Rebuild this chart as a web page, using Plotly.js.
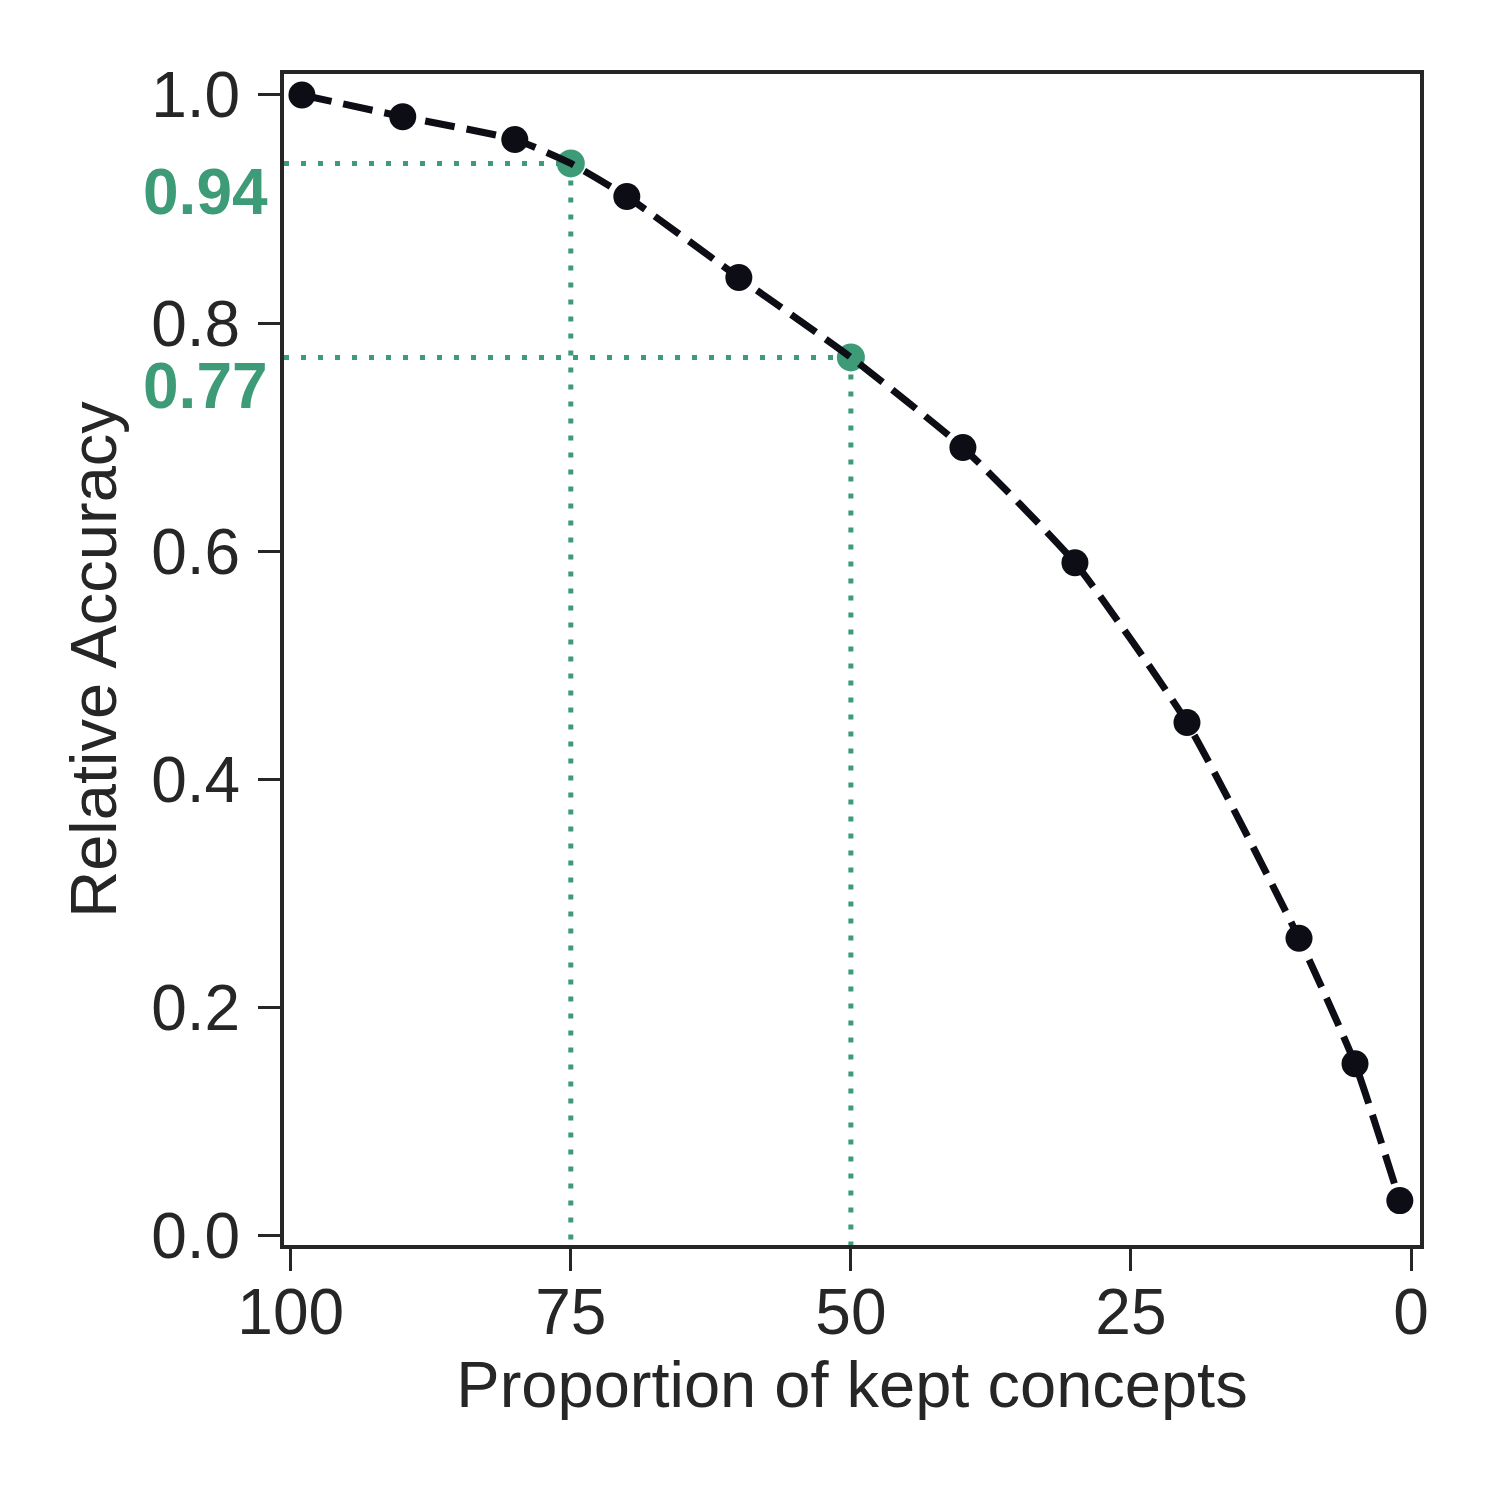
<!DOCTYPE html>
<html>
<head>
<meta charset="utf-8">
<script src="https://cdn.plot.ly/plotly-3.0.1.min.js"></script>
<style>html,body{margin:0;padding:0;background:#fff;}#chart{width:1500px;height:1500px;}</style>
</head>
<body>
<div id="chart"></div>
<script>
// Data
const keptProportion = [99, 90, 80, 75, 70, 60, 50, 40, 30, 20, 10, 5, 1];
const relativeAccuracy = [1.0, 0.981, 0.961, 0.94, 0.911, 0.84, 0.77, 0.691, 0.59, 0.45, 0.261, 0.151, 0.031];
const highlightX = [75, 50];
const highlightY = [0.94, 0.77];
const highlightLabels = ['0.94', '0.77'];
const xTickVals = [100, 75, 50, 25, 0];
const yTickVals = [0.0, 0.2, 0.4, 0.6, 0.8, 1.0];
const yTickText = ['0.0', '0.2', '0.4', '0.6', '0.8', '1.0'];

const xRange = [100.6, -0.8];
const yRange = [-0.0079, 1.0184];

const green = '#3d9b77';
const dark = '#0d0d16';
const axisColor = '#262626';
const font = 'Liberation Sans, Arial, sans-serif';

const traces = [];
highlightX.forEach((hx, i) => {
  const hy = highlightY[i];
  traces.push({
    x: [xRange[0], hx], y: [hy, hy], mode: 'lines', hoverinfo: 'skip', showlegend: false,
    line: {color: green, width: 5, dash: '5px,12px'}
  });
  traces.push({
    x: [hx, hx], y: [hy, yRange[0]], mode: 'lines', hoverinfo: 'skip', showlegend: false,
    line: {color: green, width: 5, dash: '5px,12px'}
  });
});
traces.push({
  x: highlightX, y: highlightY, mode: 'markers', showlegend: false,
  marker: {color: green, size: 28, opacity: 1, line: {width: 0}}
});
traces.push({
  x: keptProportion, y: relativeAccuracy, mode: 'lines+markers', showlegend: false,
  line: {color: dark, width: 7, dash: '30px,12px', shape: 'spline', smoothing: 0.5},
  marker: {color: dark, opacity: 1, size: keptProportion.map(v => highlightX.includes(v) ? 0 : 27), line: {width: 0}}
});

const annotations = highlightY.map((hy, i) => ({
  xref: 'paper', yref: 'y', x: 0, y: hy, xanchor: 'right', yanchor: 'middle',
  xshift: -14, yshift: -29, showarrow: false, text: '<b>' + highlightLabels[i] + '</b>',
  font: {family: font, size: 64, color: green}
}));

const layout = {
  width: 1500, height: 1500,
  paper_bgcolor: '#ffffff', plot_bgcolor: '#ffffff',
  margin: {l: 284, r: 80, t: 74, b: 255, pad: 0},
  font: {family: font, color: axisColor, size: 65},
  showlegend: false,
  xaxis: {
    range: xRange, tickvals: xTickVals, ticktext: xTickVals.map(String),
    ticks: 'outside', ticklen: 22, tickwidth: 3, tickcolor: axisColor,
    showline: true, linewidth: 4, linecolor: axisColor, mirror: true,
    showgrid: false, zeroline: false, ticklabelstandoff: -14,
    tickfont: {family: font, size: 64, color: axisColor},
    title: {text: 'Proportion of kept concepts', font: {family: font, size: 65, color: axisColor}, standoff: 10}
  },
  yaxis: {
    range: yRange, tickvals: yTickVals, ticktext: yTickText,
    ticks: 'outside', ticklen: 22, tickwidth: 3, tickcolor: axisColor,
    showline: true, linewidth: 4, linecolor: axisColor, mirror: true,
    showgrid: false, zeroline: false, ticklabelstandoff: 5,
    tickfont: {family: font, size: 64, color: axisColor},
    title: {text: 'Relative Accuracy', font: {family: font, size: 65, color: axisColor}, standoff: 14}
  },
  annotations: annotations
};

Plotly.newPlot('chart', traces, layout, {displayModeBar: false, staticPlot: true});
</script>
</body>
</html>
